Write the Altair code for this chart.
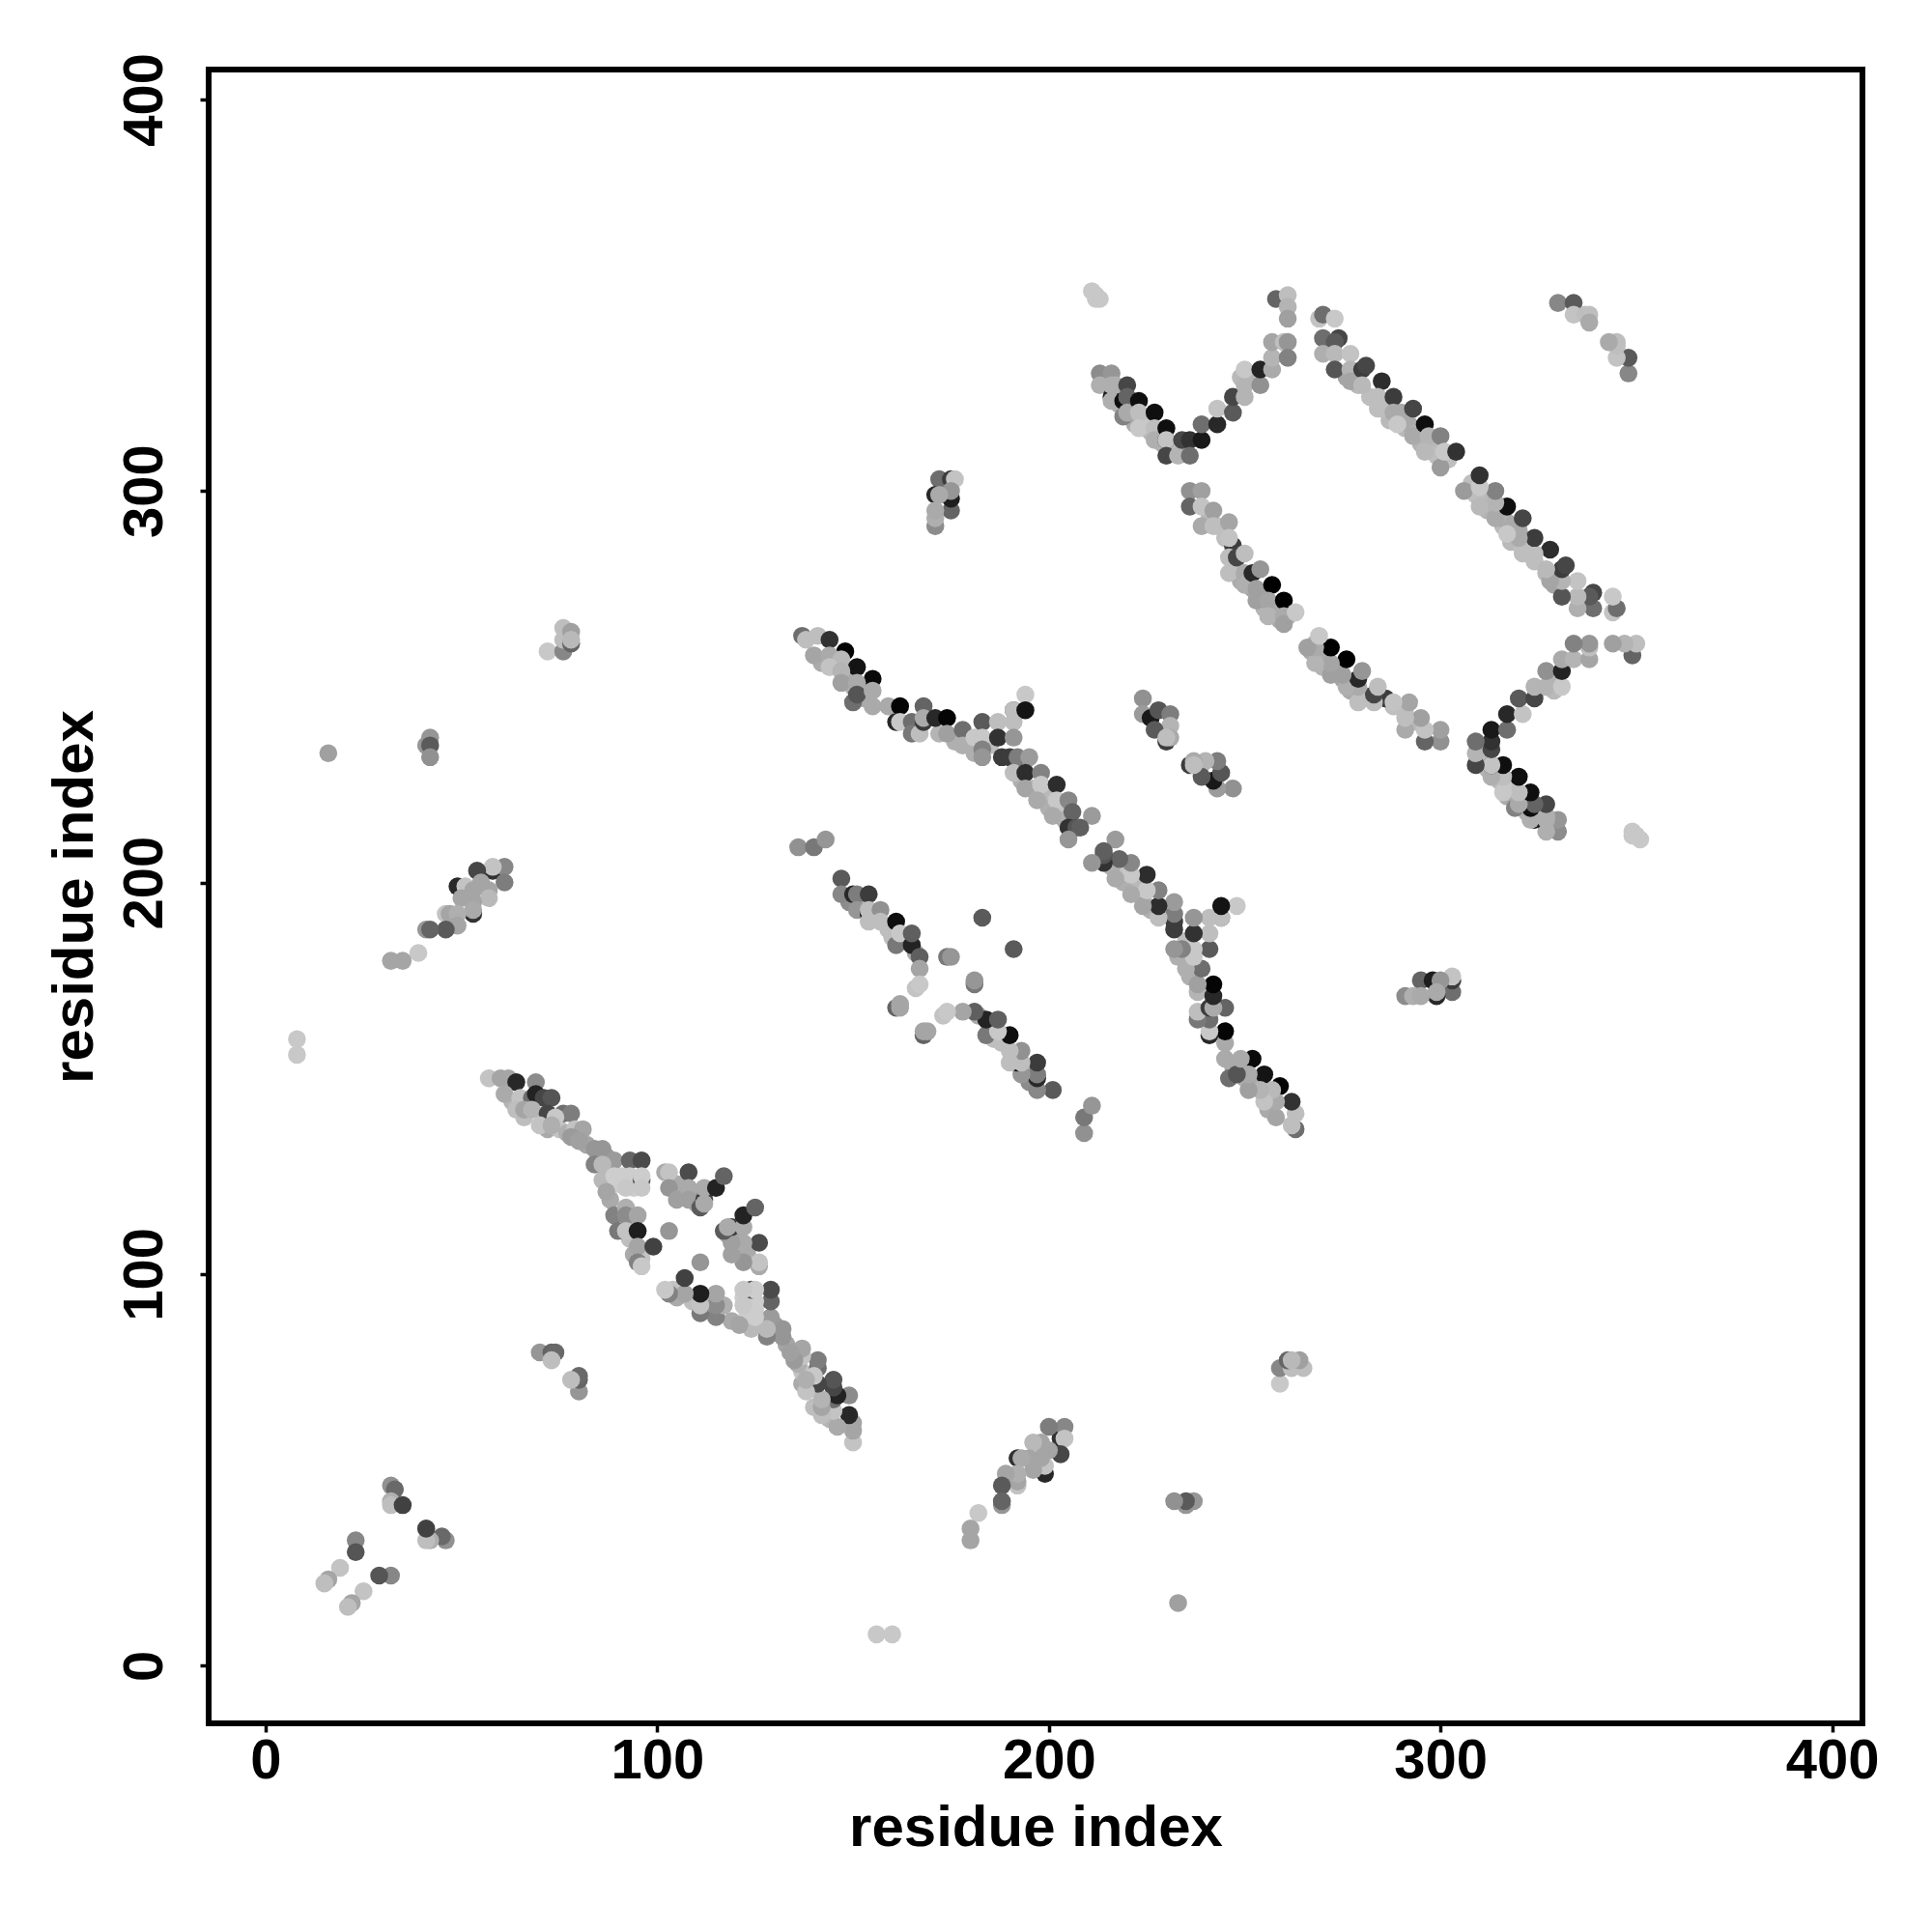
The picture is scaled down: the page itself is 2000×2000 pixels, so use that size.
import altair as alt
import pandas as pd

# (x, y, grey level) for the y > x half of the symmetric contact map
isolated = [(8,160,200),(8,156,200),(16,233,160),(42,237,150),(41,235,150),(42,235,90),(42,232,145),
            (211,351,200),(212,350,200),(213,349,200),(212,349,200),(183,191,90),
            (136,209,145),(140,209,120),(143,211,150)]
cluster_low = [(32,46,145),(33,45,105),(32,42,175),(32,41,190),(35,41,65),(23,32,135),(23,29,85),
               (19,25,195),(16,22,165),(15,21,190)]
cluster_70 = [(70,80,150),(73,79,165),(73,80,100),(74,80,105),(73,78,190)]
cluster_75 = [(72,259,200),(76,259,135),(76,265,190),(76,262,190),(78,264,160),(78,261,100),(78,262,185)]
cluster_50 = [(58,203,50),(61,204,135),(58,204,195),(54,203,70),(61,200,125),(49,199,40),(51,199,195),
              (57,198,165),(55,200,165),(57,196,185),(53,198,165),(50,196,165),(53,195,165),
              (53,192,50),(53,193,170),(46,192,195),(47,192,165),(49,192,175),(49,189,165),
              (46,188,90),(41,188,150),(42,188,100),(39,182,200),(35,180,165),(32,180,165)]
cluster_172 = [(172,303,110),(175,303,60),(176,303,195),(175,295,100),(175,298,30),(175,300,150),
               (171,299,40),(172,299,170),(171,291,140),(171,293,175),(171,295,170)]
cluster_225 = [(224,247,145),(224,243,155),(226,242,25),(228,244,85),(231,243,125),(231,240,180),
               (227,239,90),(230,236,60),(231,237,170),(230,237,190)]
under_a = [(63,144,180),(66,140,190),(67,143,185),(71,139,190),(72,137,170),(75,137,195),(77,136,175),(82,133,165),
           (85,130,150),(87,130,155),(88,126,190),(90,123,205),(91,125,205),(94,122,205),(95,123,205),(88,119,170),
           (105,123,170),(110,120,165),(110,118,170),(93,113,170),(93,109,190),(94,105,170),(96,104,195)]
segment_a = [(57,150,195),(60,150,165),(62,150,165),(64,149,40),(69,149,140),(61,146,170),(65,145,195),
             (68,145,110),(69,146,35),(71,145,70),(73,145,85),(64,142,190),(66,142,165),(68,142,180),
             (72,141,70),(76,141,110),(78,141,125),(70,138,195),(74,140,200),(73,138,175),(79,137,195),
             (81,137,165),(78,135,155),(80,134,160),(84,132,150),(86,132,150),(84,128,130),(89,129,155),
             (93,129,100),(96,129,75),(86,128,185),(86,124,185),(89,125,205),(93,125,205),(96,124,80),
             (96,125,205),(87,121,165),(92,122,200),(96,122,200),(102,126,170),(103,126,195),(108,126,75),
             (103,122,150),(105,119,160),(108,122,170),(108,119,160),(111,117,90),(112,119,60),(112,118,170),
             (112,122,170),(115,122,35),(117,125,100),(89,115,130),(92,117,175),(92,115,140),(95,115,165),
             (90,111,120),(92,111,195),(95,111,30),(95,107,165),(99,107,65),(95,103,130),(96,102,200),
             (103,111,150)]
under_b = [(142,256,170),(146,255,185),(148,254,175),(149,252,170),(150,250,175),(153,249,170),(153,247,170),
           (150,246,110),(172,238,180),(176,236,175),(180,235,180),(181,233,175),(185,235,190),(193,226,175),
           (196,224,180),(199,222,185),(200,219,175),(203,219,195),(204,216,175)]
segment_b = [(137,263,110),(138,262,190),(141,263,190),(144,262,50),(148,259,5),(140,258,165),(144,258,170),
             (147,257,185),(151,255,20),(144,255,195),(147,254,180),(155,252,10),(147,251,160),(151,251,170),
             (151,248,85),(155,249,170),(155,245,170),(159,245,170),(162,245,5),(161,241,40),(162,241,200),
             (168,245,100),(165,241,110),(165,238,120),(167,238,190),(168,241,60),(168,242,170),(171,242,40),
             (174,242,5),(174,238,160),(178,239,110),(178,235,175),(181,237,200),(183,241,90),(183,237,200),
             (183,234,130),(183,232,150),(187,241,190),(187,237,50),(188,232,60),(191,244,100),(191,244,190),
             (191,241,190),(191,237,150),(194,248,200),(194,244,20),(190,232,60),(192,232,125),(195,232,155),
             (191,228,190),(194,228,45),(198,228,130),(194,224,165),(198,225,200),(202,225,45),(197,221,170),
             (202,221,200),(205,221,135),(201,217,170),(206,218,100),(211,217,155),(205,214,50),(207,214,85),
             (208,214,95),(205,211,150)]
under_e = [(149,195,140),(152,195,170),(155,191,190),(159,188,190),(160,186,190),(163,185,180),(166,182,170)]
segment_e = [(147,201,90),(147,197,135),(150,197,40),(151,197,125),(154,197,60),(151,193,150),(154,192,25),
             (154,193,190),(157,193,145),(154,190,190),(157,190,190),(161,190,15),(161,184,120),(162,187,200),
             (165,184,35),(165,187,95),(167,181,95),(167,178,165),(166,173,195),(167,174,200),(174,181,120),
             (175,181,150),(161,168,100),(162,168,165),(162,169,165)]
under_v = [(218,322,175),(221,320,175),(222,317,170),(224,318,190),(225,316,200),(226,315,185),(228,314,180),
           (229,312,180),(232,310,190),(235,310,185),(252,329,180),(249,329,185)]
segment_v = [(213,330,140),(216,330,150),(213,327,175),(216,324,30),(216,327,175),(217,327,175),(220,327,70),
             (216,323,175),(219,323,15),(220,324,100),(219,319,130),(220,320,170),(223,323,15),(223,320,190),
             (223,316,200),(227,320,15),(227,316,190),(227,313,175),(230,316,15),(230,313,25),(230,313,195),
             (230,309,70),(233,309,180),(234,313,70),(236,313,50),(236,309,110),(239,313,25),(239,317,110),
             (243,317,40),(243,321,195),(247,320,90),(247,324,70),(250,324,180),(250,327,180),(250,331,200),
             (254,327,145),(254,331,35),(257,331,170),(257,334,180),(257,338,165),(260,338,190),(261,338,150),
             (261,334,130),(258,349,100),(261,350,190),(261,347,180),(261,344,160)]
under_d = [(276,329,165),(279,327,185),(282,324,190),(284,321,190),(286,322,170),(287,318,185),(290,320,170),
           (291,316,185),(292,317,170),(294,315,175),(295,312,180),(298,312,185),(299,309,190),(302,308,190)]
segment_d = [(269,344,195),(270,345,110),(273,344,200),(270,339,110),(274,339,70),(273,338,90),(270,335,175),
             (273,335,185),(273,331,85),(277,335,195),(277,331,180),(277,328,165),(280,331,60),(281,332,70),
             (280,327,185),(285,328,45),(284,324,190),(285,321,190),(288,324,60),(288,320,170),(289,317,200),
             (293,321,70),(293,314,170),(296,317,15),(297,314,180),(296,310,185),(300,314,130),(300,306,155),
             (301,310,200),(304,310,50)]
under_f = [(241,294,185),(243,291,190),(245,288,190),(247,284,195),(248,280,190),(249,277,170),(251,277,170),
           (252,275,165),(254,273,165),(255,270,180),(257,269,185),(258,270,170),(259,267,170),(261,268,175)]
segment_f = [(236,300,145),(239,300,160),(236,296,100),(239,296,195),(239,291,170),(242,295,160),(242,291,190),
             (246,292,165),(247,286,60),(246,288,195),(246,283,190),(246,279,190),(248,283,70),(250,284,190),
             (250,279,170),(250,276,175),(252,279,40),(254,280,150),(253,275,160),(253,272,160),(257,276,0),
             (256,272,165),(260,272,0),(256,268,180),(260,268,170),(260,266,160),(263,269,200)]
cluster_335 = [(330,348,135),(334,348,90),(334,345,195),(337,345,190),(338,345,190),(338,343,170)]

groups = [isolated, cluster_low, cluster_70, cluster_75, cluster_50, cluster_172, cluster_225,
          under_a, segment_a, under_b, segment_b, under_e, segment_e, under_v, segment_v,
          under_d, segment_d, under_f, segment_f, cluster_335]

rows = []
for g in groups:
    for x, y, v in g:
        h = f"#{v:02x}{v:02x}{v:02x}"
        rows.append({"x": x, "y": y, "c": h})
        rows.append({"x": y, "y": x, "c": h})
df = pd.DataFrame(rows)

ticks = [0, 100, 200, 300, 400]
font = "Liberation Sans"

common = dict(values=ticks, grid=False, domain=False, ticks=True, tickSize=9, tickWidth=3.5, tickColor="black",
              labelFont=font, labelFontSize=58, labelFontWeight="bold", labelColor="black",
              titleFont=font, titleFontSize=60, titleFontWeight="bold", titleColor="black")

chart = (
    alt.Chart(df)
    .mark_circle(size=345, opacity=1)
    .encode(
        x=alt.X("x:Q", scale=alt.Scale(domain=[-14.55, 407.75], nice=False, zero=False),
                axis=alt.Axis(title="residue index", labelPadding=1, titlePadding=11, labelFlush=False,
                              labelOverlap=False, **common)),
        y=alt.Y("y:Q", scale=alt.Scale(domain=[-14.73, 407.6], nice=False, zero=False),
                axis=alt.Axis(title="residue index", labelAngle=270, labelAlign="center", labelBaseline="bottom",
                              labelPadding=28, titlePadding=13, labelFlush=False, labelOverlap=False, **common)),
        color=alt.Color("c:N", scale=None),
    )
    .properties(width=1712, height=1712, autosize=alt.AutoSizeParams(type="none"), background="white",
                padding={"left": 208, "top": 64, "right": 64, "bottom": 200})
    .configure_view(stroke="black", strokeWidth=6)
)

chart.save("out.html", embed_options={"renderer": "svg", "actions": False})
